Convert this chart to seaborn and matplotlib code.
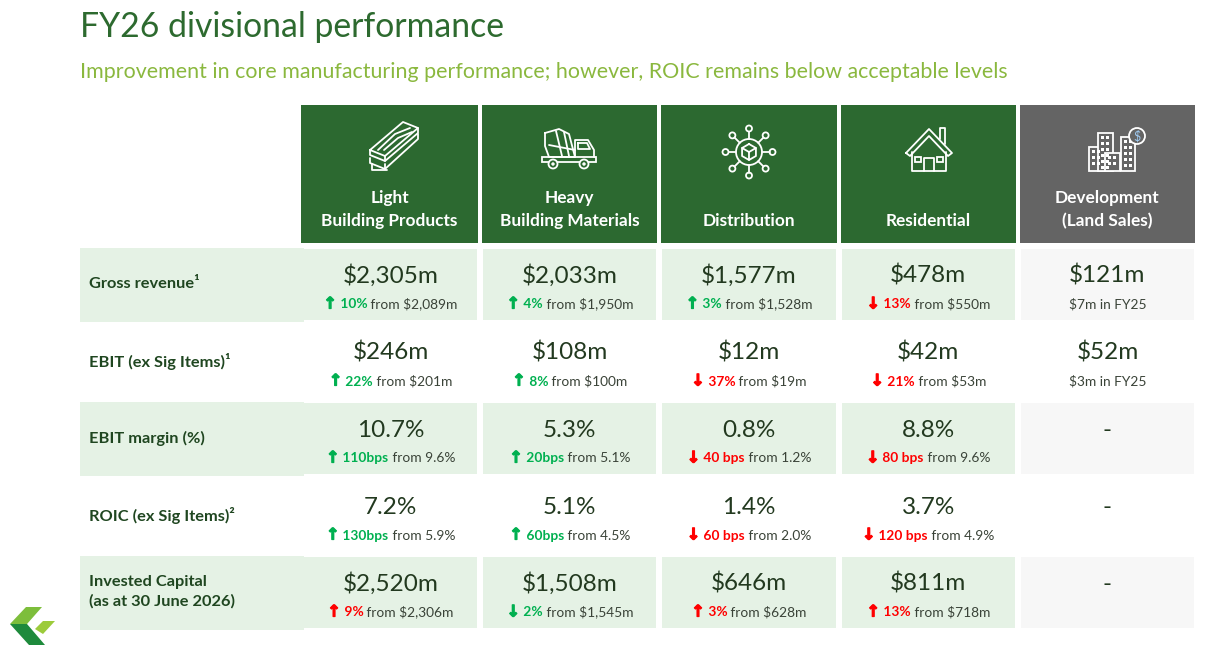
import numpy as np
import pandas as pd
import seaborn as sns
import matplotlib
matplotlib.use("Agg")
import matplotlib.pyplot as plt
import matplotlib.patheffects as pe
from matplotlib.colors import ListedColormap
from matplotlib.patches import Rectangle, Polygon, Circle

# ---------------- data ----------------
title = "FY26 divisional performance"
subtitle = "Improvement in core manufacturing performance; however, ROIC remains below acceptable levels"
divisions = ["Light\nBuilding Products", "Heavy\nBuilding Materials", "Distribution",
             "Residential", "Development\n(Land Sales)"]
metrics = ["Gross revenue\u00b9", "EBIT (ex Sig Items)\u00b9", "EBIT margin (%)",
           "ROIC (ex Sig Items)\u00b2", "Invested Capital\n(as at 30 June 2026)"]

gross_revenue = ["$2,305m", "$2,033m", "$1,577m", "$478m", "$121m"]
ebit = ["$246m", "$108m", "$12m", "$42m", "$52m"]
ebit_margin = ["10.7%", "5.3%", "0.8%", "8.8%", "-"]
roic = ["7.2%", "5.1%", "1.4%", "3.7%", "-"]
invested_capital = ["$2,520m", "$1,508m", "$646m", "$811m", "-"]

# change direction: +1 up, -1 down, 0 none
gross_dir = [1, 1, 1, -1, 0]
gross_chg = ["10%", "4%", "3%", "13%", ""]
gross_prior = ["from $2,089m", "from $1,950m", "from $1,528m", "from $550m", "$7m in FY25"]
gross_good = [True, True, True, False, None]

ebit_dir = [1, 1, -1, -1, 0]
ebit_chg = ["22%", "8%", "37%", "21%", ""]
ebit_prior = ["from $201m", "from $100m", "from $19m", "from $53m", "$3m in FY25"]
ebit_good = [True, True, False, False, None]

margin_dir = [1, 1, -1, -1, 0]
margin_chg = ["110bps", "20bps", "40 bps", "80 bps", ""]
margin_prior = ["from 9.6%", "from 5.1%", "from 1.2%", "from 9.6%", ""]
margin_good = [True, True, False, False, None]

roic_dir = [1, 1, -1, -1, 0]
roic_chg = ["130bps", "60bps", "60 bps", "120 bps", ""]
roic_prior = ["from 5.9%", "from 4.5%", "from 2.0%", "from 4.9%", ""]
roic_good = [True, True, False, False, None]

capital_dir = [1, -1, 1, 1, 0]
capital_chg = ["9%", "2%", "3%", "13%", ""]
capital_prior = ["from $2,306m", "from $1,545m", "from $628m", "from $718m", ""]
capital_good = [False, True, False, False, None]

main_values = [gross_revenue, ebit, ebit_margin, roic, invested_capital]
dirs = [gross_dir, ebit_dir, margin_dir, roic_dir, capital_dir]
chgs = [gross_chg, ebit_chg, margin_chg, roic_chg, capital_chg]
priors = [gross_prior, ebit_prior, margin_prior, roic_prior, capital_prior]
goods = [gross_good, ebit_good, margin_good, roic_good, capital_good]

# ---------------- style ----------------
sns.set_theme(style="white")
FONT = ["Lato", "DejaVu Sans"]
plt.rcParams["font.family"] = FONT
plt.rcParams["text.parse_math"] = False

DARK_GREEN = "#2C6930"
GREY_HEAD = "#646464"
TITLE_C = "#2D6A2F"
SUB_C = "#8AB83E"
VAL_C = "#22391F"
LABEL_C = "#1F4620"
TXT_C = "#3A4338"
GOOD_C = "#00B050"
BAD_C = "#FF0000"
SHADE = "#E5F2E5"
SHADE_GREY = "#F7F7F7"

W, H = 1207, 651
fig = plt.figure(figsize=(W / 100, H / 100), dpi=100)
fig.patch.set_facecolor("white")

# geometry (pixels)
X0, X1 = 301, 1197
Y0, Y1 = 246, 631
ncol, nrow = len(divisions), len(metrics)
cw = (X1 - X0) / ncol
rh = (Y1 - Y0) / nrow

# ---------------- heatmap for data cells ----------------
shade = np.zeros((nrow, ncol))
for r in range(nrow):
    if r % 2 == 0:
        shade[r, :] = 1
        shade[r, ncol - 1] = 2
annot = np.array(main_values, dtype=object)
hax = fig.add_axes([X0 / W, 1 - Y1 / H, (X1 - X0) / W, (Y1 - Y0) / H])
sns.heatmap(pd.DataFrame(shade, index=metrics, columns=divisions), ax=hax,
            cmap=ListedColormap(["white", SHADE, SHADE_GREY]), vmin=-0.5, vmax=2.5,
            cbar=False, linewidths=2.9, linecolor="white",
            annot=annot, fmt="", xticklabels=False, yticklabels=False,
            annot_kws=dict(color=VAL_C, fontsize=17.5, va="baseline", family=FONT))
hax.set_axis_off()
for t in hax.texts:
    x, y = t.get_position()
    t.set_position((x, y - 0.025))

# ---------------- overlay ----------------
ax = fig.add_axes([0, 0, 1, 1])
ax.set_xlim(0, W)
ax.set_ylim(H, 0)
ax.set_axis_off()
ax.patch.set_alpha(0)

ax.text(80, 37, title, fontsize=24.3, color=TITLE_C, va="baseline", ha="left")
ax.text(80, 78, subtitle, fontsize=15.4, color=SUB_C, va="baseline", ha="left")

# row label column shading
for r in range(nrow):
    top = Y0 + r * rh
    if r % 2 == 0:
        ax.add_patch(Rectangle((80, top + 1.5), X0 + 3 - 80, rh - 3, color=SHADE, lw=0, zorder=1))
    ax.text(89, top + rh / 2 - 0.5, metrics[r], fontsize=11.8, fontweight="bold",
            color=LABEL_C, va="center", ha="left", linespacing=1.45, zorder=3)

# header boxes
HY0, HY1 = 105, 243
for c in range(ncol):
    xl = X0 + c * cw + (0 if c == 0 else 2)
    xr = X0 + (c + 1) * cw - 2
    col = GREY_HEAD if c == ncol - 1 else DARK_GREEN
    ax.add_patch(Rectangle((xl, HY0), xr - xl, HY1 - HY0, color=col, lw=0, zorder=1))
    lines = divisions[c].split("\n")
    xc = (xl + xr) / 2
    for k, ln in enumerate(reversed(lines)):
        ax.text(xc, 221 - 23 * k, ln, fontsize=12.4, fontweight="bold", color="white",
                ha="center", va="center", zorder=3)

# sub lines
renderer = fig.canvas.get_renderer()
for r in range(nrow):
    ybase = Y0 + r * rh + rh / 2 + 24
    for c in range(ncol):
        xc = X0 + c * cw + cw / 2
        d = dirs[r][c]
        pieces = []
        if d != 0:
            colr = GOOD_C if goods[r][c] else BAD_C
            arrow = "\u2191" if d > 0 else "\u2193"
            pieces.append((arrow, colr, "bold", ["DejaVu Sans"], 11.5, True))
            pieces.append((" " + chgs[r][c], colr, "bold", FONT, 9.9, False))
            pieces.append((" " + priors[r][c], TXT_C, "normal", FONT, 9.9, False))
        elif priors[r][c]:
            pieces.append((priors[r][c], TXT_C, "normal", FONT, 9.9, False))
        if not pieces:
            continue
        texts = []
        for s, colr, fw, fam, fs, thick in pieces:
            t = ax.text(0, ybase, s, color=colr, fontweight=fw, family=fam, fontsize=fs,
                        ha="left", va="baseline", zorder=3)
            if thick:
                t.set_path_effects([pe.withStroke(linewidth=0.9, foreground=colr)])
            texts.append(t)
        widths = [t.get_window_extent(renderer).width for t in texts]
        x = xc - sum(widths) / 2
        for t, w in zip(texts, widths):
            t.set_x(x)
            x += w

# ---------------- icons (decorative) ----------------
IC = dict(color="white", lw=1.3, solid_capstyle="round", solid_joinstyle="round", zorder=4)

def pl(pts, close=False):
    pts = list(pts)
    if close:
        pts = pts + [pts[0]]
    xs, ys = zip(*pts)
    ax.plot(xs, ys, **IC)

# planks
pl([(370, 150), (403, 122), (418, 128), (385, 156)], close=True)
pl([(370, 150), (370, 155), (385, 161), (418, 133), (418, 128)])
pl([(385, 156), (385, 161)])
pl([(370, 158), (370, 163), (385, 169), (418, 139), (418, 134)])
pl([(385, 164), (385, 169)])
pl([(372, 164), (372, 170), (387, 170)])
pl([(378, 150), (395, 134), (410, 128)])
pl([(384, 150), (398, 138), (412, 132)])

# mixer truck
pl([(545, 133), (559, 129), (569, 134), (575, 157), (549, 157), (545, 146)], close=True)
pl([(556, 131), (562, 156)])
pl([(564, 132), (569, 156)])
pl([(549, 145), (575, 150)])
pl([(575, 157), (575, 140), (588, 140), (594, 150), (594, 157)])
pl([(578, 143), (587, 143), (590, 149), (578, 149)], close=True)
ax.add_patch(Rectangle((542, 157), 54, 5, fill=False, ec="white", lw=1.3, zorder=4))
for wx in (553, 584):
    ax.add_patch(Circle((wx, 164), 4.5, fc=DARK_GREEN, ec="white", lw=1.3, zorder=5))
    ax.add_patch(Circle((wx, 164), 1.3, fc="white", ec="white", lw=0.5, zorder=6))

# distribution hub
cx, cy = 749, 152
ax.add_patch(Circle((cx, cy), 13, fill=False, ec="white", lw=1.3, zorder=4))
hexa = [(cx + 8 * np.cos(np.pi / 2 + k * np.pi / 3), cy - 8 * np.sin(np.pi / 2 + k * np.pi / 3)) for k in range(6)]
pl(hexa, close=True)
pl([hexa[1], (cx, cy), hexa[5]])
pl([(cx, cy), hexa[3]])
for k in range(8):
    a = k * np.pi / 4
    x1, y1 = cx + 13 * np.cos(a), cy - 13 * np.sin(a)
    x2, y2 = cx + 20.5 * np.cos(a), cy - 20.5 * np.sin(a)
    pl([(x1, y1), (x2, y2)])
    ax.add_patch(Circle((cx + 23.5 * np.cos(a), cy - 23.5 * np.sin(a)), 3, fill=False,
                        ec="white", lw=1.3, zorder=4))

# house
pl([(906, 153), (929, 129), (952, 153), (948, 156), (929, 136), (910, 156)], close=True)
pl([(912, 152), (912, 171), (946, 171), (946, 152)])
pl([(924, 171), (924, 158), (934, 158), (934, 171)])
ax.add_patch(Rectangle((915, 157), 6, 5, fill=False, ec="white", lw=1.3, zorder=4))
ax.add_patch(Rectangle((937, 157), 6, 5, fill=False, ec="white", lw=1.3, zorder=4))
pl([(940, 139), (940, 128), (945, 128), (945, 144)])

# buildings
for (bx0, by0, bx1) in [(1089, 147, 1104), (1098, 133, 1113), (1105, 153, 1120), (1121, 137, 1135)]:
    ax.add_patch(Rectangle((bx0, by0), bx1 - bx0, 171 - by0, fc=GREY_HEAD, ec="white", lw=1.3, zorder=4))
    for wy in np.arange(by0 + 3, 168, 6):
        for wx in np.arange(bx0 + 3, bx1 - 3, 5):
            ax.add_patch(Rectangle((wx, wy), 3.2, 3.2, fc="white", lw=0, zorder=5))
ax.add_patch(Circle((1137, 136), 8, fc=GREY_HEAD, ec="white", lw=1.3, zorder=6))
ax.text(1137, 136.5, "$", color="#9EC9F0", fontsize=9, ha="center", va="center", zorder=7)

# logo
ax.add_patch(Polygon([(10, 624), (26, 607), (42, 607), (27, 624)], closed=True, fc="#7DBE3B", lw=0, zorder=4))
ax.add_patch(Polygon([(10, 624), (27, 624), (45, 645), (29, 645)], closed=True, fc="#1E8A3C", lw=0, zorder=4))
ax.add_patch(Polygon([(35, 629), (43, 621), (55, 621), (43, 634)], closed=True, fc="#9CCB3B", lw=0, zorder=4))

fig.savefig("out.png", dpi=100, facecolor="white")
